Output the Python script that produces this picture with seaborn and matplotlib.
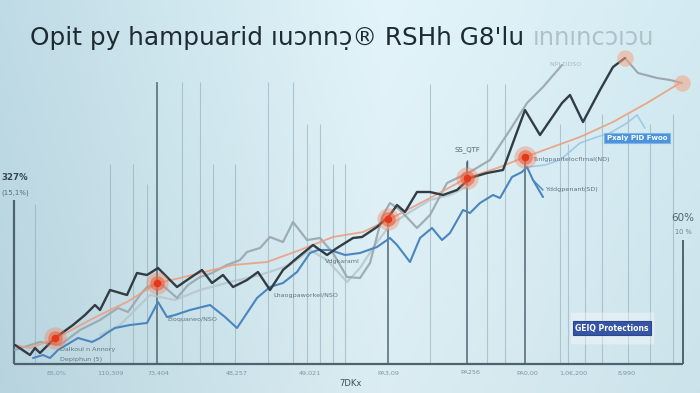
import numpy as np
import pandas as pd
import matplotlib
matplotlib.use("Agg")
import matplotlib.pyplot as plt
from matplotlib.patches import FancyBboxPatch
import seaborn as sns

sns.set_theme(style="white")
plt.rcParams['font.family'] = ['DejaVu Sans']

# ---------------- data (x = period index, y = value) ----------------
dark_x = [1, 16, 21, 26, 41, 59, 71, 81, 86, 96, 113, 123, 133, 144, 163, 176, 188, 198, 209, 219, 233, 244,
          256, 269, 283, 299, 313, 323, 339, 348, 363, 376, 383, 391, 403, 416, 429, 443, 456, 473, 489,
          511, 526, 548, 556, 569, 586, 599, 611]
dark_y = [19, 9, 16, 11, 26, 39, 49, 59, 54, 74, 69, 91, 89, 96, 77, 86, 94, 81, 89, 77, 84, 92,
          74, 94, 106, 119, 109, 116, 126, 127, 137, 149, 159, 152, 172, 172, 169, 174, 186, 191, 194,
          254, 229, 261, 269, 242, 274, 297, 306]
fade_x = [611, 624, 643, 656, 668]
fade_y = [306, 291, 286, 284, 281]

gray_x = [1, 26, 46, 66, 86, 104, 114, 126, 133, 146, 163, 174, 186, 198, 213, 226, 233, 246, 256, 269,
          279, 293, 306, 319, 333, 346, 356, 368, 376, 386, 403, 416, 433, 456, 476, 496, 513, 529, 548]
gray_y = [14, 22, 19, 34, 44, 56, 52, 69, 77, 81, 66, 79, 87, 91, 99, 104, 112, 116, 127, 122,
          142, 124, 126, 111, 87, 86, 101, 147, 161, 154, 136, 149, 181, 192, 204, 234, 261, 277, 299]

light_x = [86, 106, 136, 161, 186, 216, 246, 276, 296, 313, 333, 346, 361, 376, 396, 416, 436, 456]
light_y = [29, 39, 69, 64, 74, 82, 89, 99, 114, 104, 82, 96, 119, 139, 152, 164, 169, 179]

blue_x = [19, 29, 36, 44, 64, 78, 86, 93, 101, 116, 133, 144, 153, 161, 176, 196, 211, 223, 233, 243,
          256, 269, 283, 296, 304, 316, 331, 346, 363, 376, 383, 396, 406, 418, 428, 436, 449, 456, 466,
          479, 486, 498, 508, 513, 519, 529]
blue_y = [6, 9, 6, 14, 26, 22, 26, 31, 36, 39, 41, 62, 47, 49, 54, 59, 47, 36, 51, 66,
          77, 81, 92, 111, 114, 114, 109, 111, 117, 126, 119, 102, 126, 136, 124, 131, 154, 151, 161,
          169, 166, 187, 192, 197, 184, 167]
lblue_x = [513, 531, 546, 566, 583, 596, 613, 623, 631]
lblue_y = [197, 199, 204, 221, 227, 231, 241, 249, 236]

trend_x = [1, 16, 41, 63, 76, 96, 113, 129, 144, 166, 219, 253, 286, 319, 349, 374, 416, 453, 486, 511,
           566, 599, 633, 666]
trend_y = [19, 16, 25, 37, 44, 54, 62, 72, 81, 86, 99, 102, 114, 127, 132, 144, 166, 186, 197, 207,
           227, 242, 261, 281]

mark_x = [41, 143, 374, 453, 511]
mark_y = [26, 81, 145, 186, 207]
soft_x = [611, 668]
soft_y = [306, 281]

tick_pos = [43, 96, 144, 223, 296, 374, 456, 513, 559, 613]
tick_lab = ["85,0%", "110,309", "73,404", "48,257", "49,021", "PA3,09", "PA256", "PA0,00", "1,0€,200", "8,990"]

grid_x = [21, 96, 119, 133, 168, 186, 199, 221, 254, 279, 293, 306, 319, 331, 416, 473, 491, 546, 554,
          571, 588, 614, 636, 659]
grid_top = [160, 200, 200, 180, 282, 282, 200, 200, 282, 282, 240, 240, 200, 200, 280, 280, 280, 240,
            220, 250, 250, 250, 240, 250]
strong_x = [143, 374, 453, 511]
strong_top = [282, 145, 202, 207]

title = "Opit py hampuarid ıuɔnnɔ̣® RSHh G8'lu"
title_fade = "ınnıncɔıɔu"

# ---------------- figure ----------------
fig = plt.figure(figsize=(7.0, 3.93), dpi=100)

# background gradient
bg = fig.add_axes([0, 0, 1, 1], zorder=0)
gx = np.linspace(0, 1, 200)
gy = np.linspace(0, 1, 120)
X, Y = np.meshgrid(gx, gy)
c_left = np.array([0.72, 0.83, 0.87])
c_mid = np.array([0.86, 0.93, 0.95])
c_right = np.array([0.80, 0.89, 0.92])
w = np.clip(X / 0.55, 0, 1)[..., None]
w2 = np.clip((X - 0.55) / 0.45, 0, 1)[..., None]
img = c_left * (1 - w) + c_mid * w
img = img * (1 - w2) + c_right * w2
img = img + (0.03 * (1 - Y))[..., None]
bg.imshow(np.clip(img, 0, 1), aspect="auto", extent=[0, 1, 0, 1], origin="upper")
bg.axis("off")

ax = fig.add_axes([0, 0, 1, 1], zorder=1)
ax.patch.set_alpha(0)
ax.set_xlim(-14, 686)
ax.set_ylim(-29, 364)
ax.axis("off")

# grid lines
ax.vlines(grid_x, 0, grid_top, color="#8aa7b3", lw=0.8, alpha=0.55)
ax.vlines(strong_x, 0, strong_top, color="#4d6470", lw=1.2, alpha=0.9)
ax.vlines([0], 0, 164, color="#4d6470", lw=1.6)
ax.vlines([669], 0, 124, color="#4d6470", lw=1.4)
ax.hlines([0], 0, 669, color="#4d6470", lw=1.6)

def df(xs, ys):
    return pd.DataFrame({"x": xs, "y": ys})

sns.lineplot(data=df(light_x, light_y), x="x", y="y", ax=ax, color="#b5c4cb", lw=1.6, alpha=0.8)
sns.lineplot(data=df(gray_x, gray_y), x="x", y="y", ax=ax, color="#9aa6ad", lw=1.6, alpha=0.9)
sns.lineplot(data=df(lblue_x, lblue_y), x="x", y="y", ax=ax, color="#9cc6e4", lw=1.2, alpha=0.9)
sns.lineplot(data=df(blue_x, blue_y), x="x", y="y", ax=ax, color="#4a86bd", lw=1.5)
sns.lineplot(data=df(trend_x, trend_y), x="x", y="y", ax=ax, color="#eaa080", lw=1.3, alpha=0.9)
sns.lineplot(data=df(fade_x, fade_y), x="x", y="y", ax=ax, color="#8e979c", lw=1.5, alpha=0.8)
sns.lineplot(data=df(dark_x, dark_y), x="x", y="y", ax=ax, color="#323c44", lw=1.7)

# markers with glow
ax.scatter(mark_x, mark_y, s=260, color="#f47a55", alpha=0.35, lw=0, zorder=5)
ax.scatter(mark_x, mark_y, s=110, color="#f0603c", alpha=0.6, lw=0, zorder=5)
ax.scatter(mark_x, mark_y, s=30, color="#e4381c", lw=0, zorder=6)
ax.scatter(soft_x, soft_y, s=140, color="#f5a582", alpha=0.55, lw=0, zorder=5)

# tick labels
for p, t in zip(tick_pos, tick_lab):
    ax.text(p, -9, t, ha="center", va="center", fontsize=4.6, color="#7d97a4")
ax.text(336, -19, "7DKx", ha="center", va="center", fontsize=6, color="#3e4f58")

# side labels
ax.text(1, 186, "327%", ha="center", va="center", fontsize=6.2, color="#36464f", fontweight="bold")
ax.text(1, 171, "(15,1%)", ha="center", va="center", fontsize=5, color="#5a6f79")
ax.text(669, 146, "60%", ha="center", va="center", fontsize=7.5, color="#50646e")
ax.text(669, 132, "10 %", ha="center", va="center", fontsize=4.8, color="#70858f")

# annotations
ann = dict(fontsize=4.6, color="#5d7580")
ax.text(46, 14, "Dalkoul n Annory", ha="left", va="center", **ann)
ax.text(46, 4, "Depiphun (5)", ha="left", va="center", **ann)
ax.text(153, 44, "Eloquaneo/NSO", ha="left", va="center", **ann)
ax.text(259, 69, "Lhaogpaworkel/NSO", ha="left", va="center", **ann)
ax.text(311, 102, "Vdgkaraml", ha="left", va="center", **ann)
ax.text(453, 214, "SS_QTF", ha="center", va="center", fontsize=5, color="#4d6470")
ax.vlines([453], 196, 204, color="#4d6470", lw=1)
ax.text(518, 205, "Tsnlgpanitelocflrnal(ND)", ha="left", va="center", **ann)
ax.text(531, 174, "Yddgpenant(SD)", ha="left", va="center", **ann)
ax.plot([519, 529], [184, 174], color="#4a86bd", lw=1.0)
ax.text(536, 299, "NPI DDSO", ha="left", va="center", fontsize=4.6, color="#9aadb5", alpha=0.8)

ax.text(623, 226, "Pxaiy PID Fwoo", ha="center", va="center", fontsize=5, color="white",
        fontweight="bold",
        bbox=dict(boxstyle="square,pad=0.35", fc="#4b93dc", ec="#7fb4e6", lw=0.8))

# legend-like box
ax.add_patch(FancyBboxPatch((556, 20), 84, 32, boxstyle="square,pad=0", fc="white", ec="#d5e4ea",
                            lw=0.6, alpha=0.35, zorder=2))
ax.text(598, 36, "GEIQ Protections", ha="center", va="center", fontsize=5.5, color="white",
        fontweight="bold", zorder=3,
        bbox=dict(boxstyle="square,pad=0.3", fc="#3655a4", ec="#2b468c", lw=0.8))

# title
t1 = fig.text(30 / 700, 1 - 45 / 393, title, ha="left", va="baseline", fontsize=17.8, color="#1f2b33")
fig.canvas.draw()
bb = t1.get_window_extent()
fig.text(bb.x1 / 700 + 0.012, 1 - 45 / 393, title_fade, ha="left", va="baseline", fontsize=17.5,
         color="#9db0b8", alpha=0.7)

fig.savefig("out.png", dpi=100)
